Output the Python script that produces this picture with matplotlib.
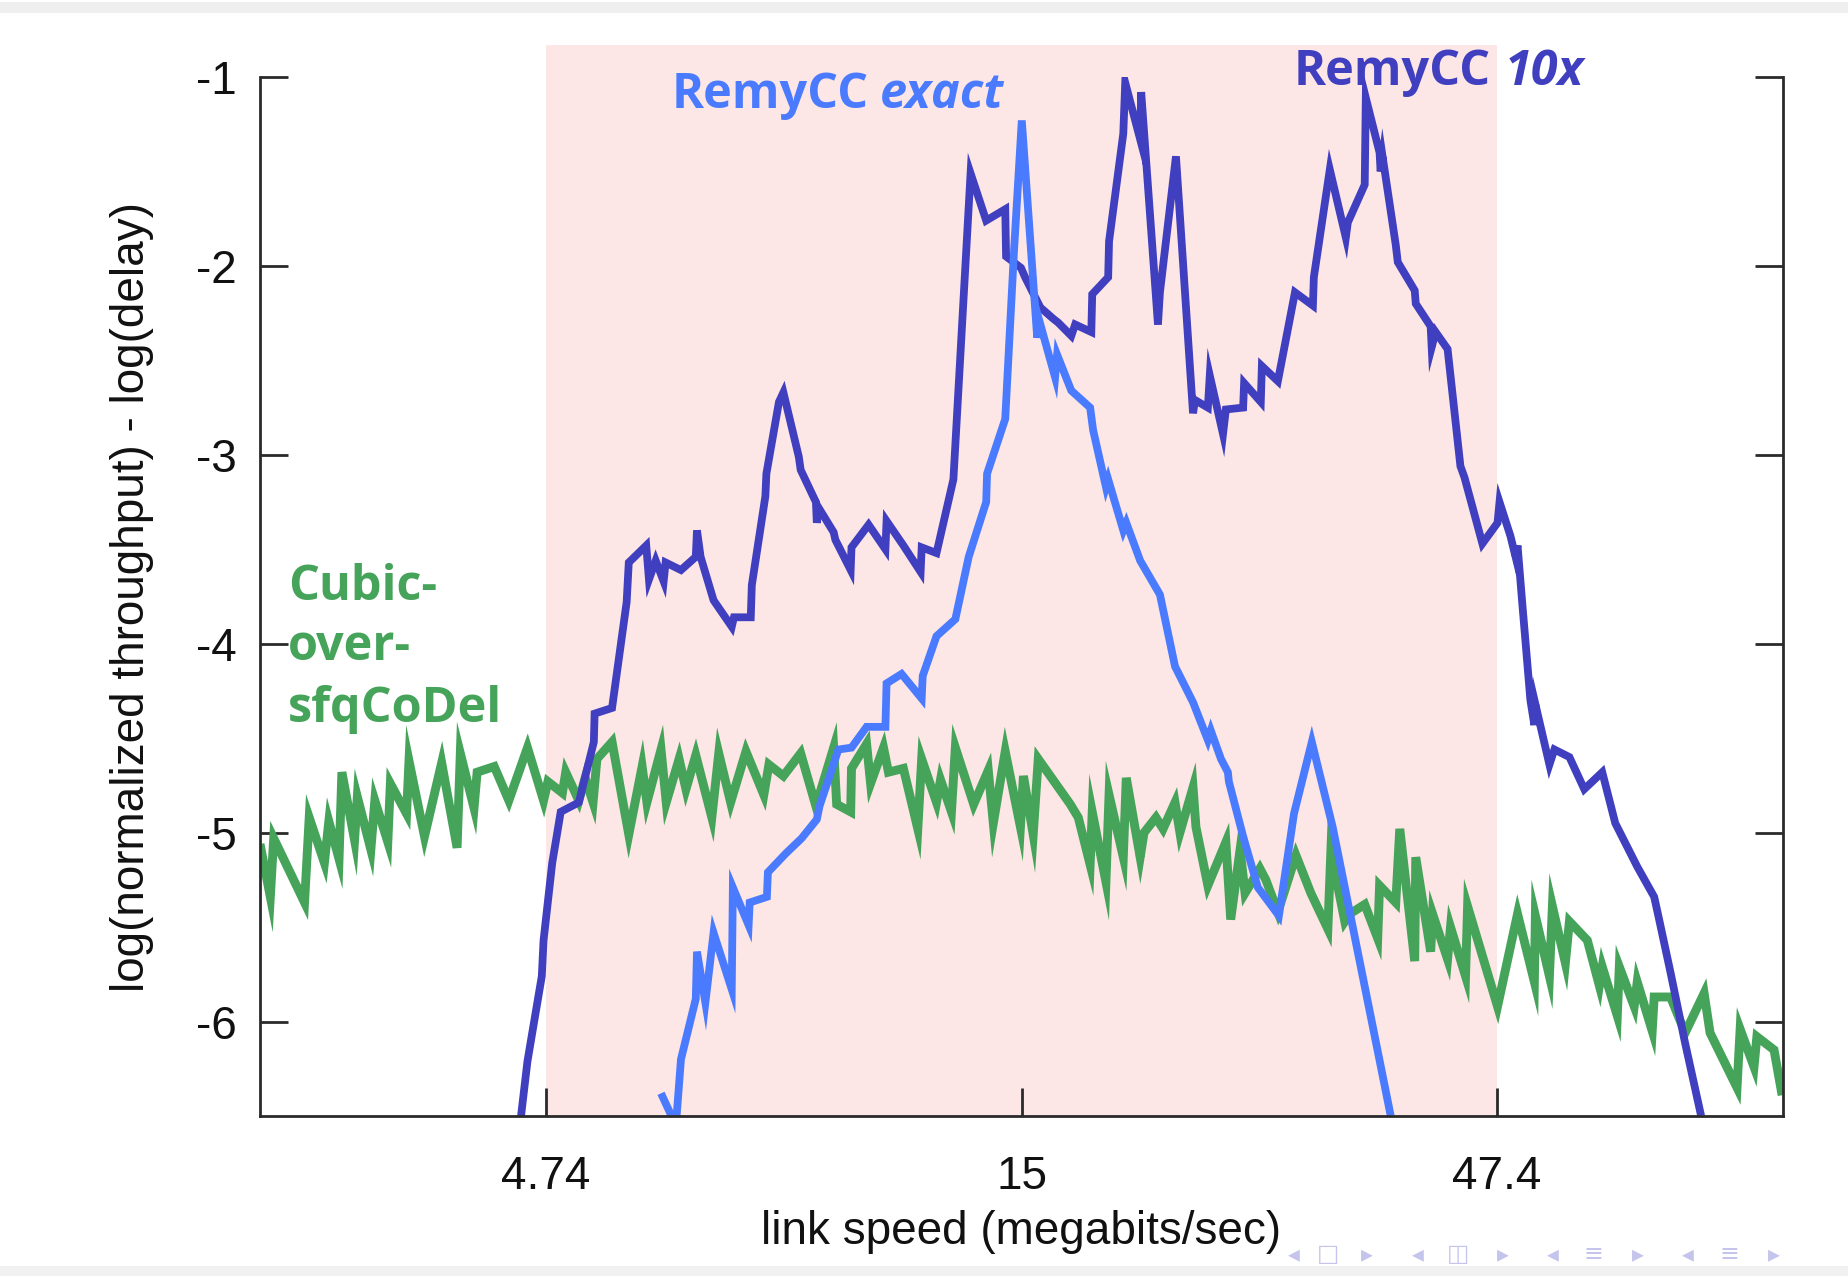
import matplotlib
matplotlib.use("Agg")
import matplotlib.pyplot as plt
from matplotlib.patches import Rectangle
from matplotlib.ticker import NullLocator, FixedLocator, FixedFormatter
from matplotlib.transforms import offset_copy

plt.rcParams["axes.unicode_minus"] = False

# ---- data: link speed (Mbit/s) vs. log(normalized throughput) - log(delay) ----
remy10x_speed = [
    4.46, 4.53, 4.69, 4.71, 4.81, 4.91, 5.13, 5.32, 5.33, 5.56, 5.76, 5.79, 6.04, 6.08,
    6.18, 6.30, 6.33, 6.57, 6.81, 6.83, 6.89, 7.11, 7.43, 7.47, 7.78, 7.80, 8.06, 8.08,
    8.33, 8.42, 8.74, 8.78, 9.11, 9.13, 9.17, 9.51, 9.55, 9.91, 9.93, 10.35, 10.78, 10.81,
    11.26, 11.74, 11.77, 12.20, 12.71, 13.25, 13.76, 14.41, 14.44, 14.97, 15.12, 15.69,
    16.19, 16.38, 16.91, 17.07, 17.75, 17.79, 18.49, 18.53, 19.18, 19.27, 19.98, 20.03,
    20.86, 20.96, 21.79, 22.71, 22.82, 23.54, 23.65, 24.42, 24.59, 25.64, 25.70, 26.76,
    26.83, 27.89, 29.07, 30.36, 30.43, 31.63, 32.88, 33.04, 34.42, 34.51, 35.68, 35.77,
    35.94, 37.11, 37.29, 38.85, 38.95, 40.38, 40.48, 40.87, 42.07, 43.40, 43.83, 45.77,
    47.48, 47.71, 48.99, 49.60, 49.84, 50.44, 51.42, 51.91, 52.04, 53.84, 54.49, 56.51,
    58.58, 61.19, 63.15, 66.60, 69.39, 70.23, 72.19, 74.76, 77.75,
]
remy10x_score = [
    -6.50, -6.21, -5.76, -5.57, -5.16, -4.89, -4.84, -4.52, -4.37, -4.34, -3.78, -3.57, -3.48, -3.66,
    -3.56, -3.67, -3.57, -3.61, -3.54, -3.40, -3.54, -3.77, -3.91, -3.86, -3.86, -3.69, -3.22, -3.10,
    -2.72, -2.67, -3.01, -3.08, -3.25, -3.36, -3.28, -3.41, -3.45, -3.61, -3.49, -3.37, -3.50, -3.35,
    -3.48, -3.62, -3.49, -3.52, -3.13, -1.51, -1.76, -1.70, -1.95, -2.01, -2.06, -2.22,
    -2.28, -2.30, -2.37, -2.31, -2.35, -2.15, -2.06, -1.87, -1.30, -1.03, -1.33, -1.08,
    -2.31, -2.14, -1.42, -2.78, -2.71, -2.75, -2.58, -2.89, -2.76, -2.75, -2.62, -2.72,
    -2.53, -2.61, -2.14, -2.21, -2.06, -1.49, -1.85, -1.77, -1.57, -1.11, -1.40, -1.50,
    -1.42, -1.89, -1.98, -2.13, -2.20, -2.32, -2.43, -2.35, -2.44, -3.06, -3.12, -3.47,
    -3.36, -3.25, -3.43, -3.54, -3.48, -3.80, -4.30, -4.43, -4.32, -4.64, -4.56, -4.60,
    -4.77, -4.68, -4.95, -5.18, -5.34, -5.46, -5.74, -6.11, -6.50,
]

remyexact_speed = [
    6.26, 6.49, 6.57, 6.81, 6.83, 6.97, 7.11, 7.43, 7.45, 7.74, 7.76, 8.09, 8.11, 8.47,
    8.80, 9.13, 9.19, 9.62, 9.93, 10.30, 10.78, 10.81, 11.21, 11.77, 11.80, 12.20, 12.77,
    13.19, 13.76, 13.79, 14.41, 14.72, 15.00, 15.57, 15.65, 16.26, 16.34, 16.91, 17.70,
    17.83, 18.39, 18.49, 19.18, 19.32, 19.98, 20.96, 21.74, 22.71, 23.54, 23.71, 24.30,
    24.71, 24.77, 25.64, 26.57, 27.96, 29.00, 30.28, 31.85, 36.66,
]
remyexact_score = [
    -6.38, -6.55, -6.20, -5.88, -5.63, -5.90, -5.53, -5.83, -5.29, -5.49, -5.37, -5.34, -5.21, -5.11,
    -5.03, -4.93, -4.86, -4.56, -4.55, -4.44, -4.44, -4.21, -4.16, -4.29, -4.17, -3.96, -3.87,
    -3.54, -3.25, -3.10, -2.81, -1.92, -1.23, -2.38, -2.29, -2.59, -2.47, -2.66, -2.75,
    -2.87, -3.17, -3.13, -3.40, -3.36, -3.56, -3.74, -4.12, -4.31, -4.51, -4.46, -4.61,
    -4.68, -4.73, -5.02, -5.29, -5.44, -4.90, -4.52, -4.97, -6.50,
]

cubic_speed = [
    2.37, 2.43, 2.45, 2.64, 2.67, 2.77, 2.80, 2.87, 2.89, 2.98, 3.00, 3.10, 3.13, 3.23,
    3.25, 3.38, 3.40, 3.53, 3.68, 3.82, 3.85, 3.98, 4.01, 4.18, 4.33, 4.53, 4.71, 4.76,
    4.93, 4.97, 5.13, 5.21, 5.31, 5.36, 5.56, 5.79, 5.98, 6.05, 6.26, 6.34, 6.54, 6.65,
    6.81, 7.08, 7.20, 7.41, 7.69, 8.03, 8.13, 8.42, 8.78, 9.11, 9.51, 9.58, 9.91, 9.93,
    10.30, 10.40, 10.73, 10.86, 11.26, 11.66, 11.77, 12.20, 12.32, 12.65, 12.77, 13.35,
    13.83, 14.00, 14.41, 14.95, 15.06, 15.42, 15.61, 16.87, 17.20, 17.70, 17.79, 18.39,
    18.53, 19.18, 19.32, 19.98, 20.17, 20.76, 21.12, 21.74, 22.00, 22.71, 22.87, 23.54,
    24.59, 24.88, 25.45, 25.76, 26.70, 27.09, 27.89, 29.14, 30.21, 31.48, 31.71, 32.80,
    33.20, 34.42, 35.52, 35.68, 37.11, 37.47, 38.85, 38.95, 40.38, 40.57, 42.07, 42.37,
    43.94, 44.16, 47.48, 49.84, 51.91, 52.04, 53.84, 54.23, 55.96, 56.51, 59.02, 60.76,
    61.19, 63.46, 63.77, 66.11, 66.60, 69.06, 69.39, 72.19, 74.79, 78.31, 79.45, 84.81,
    85.45, 88.37, 88.99, 92.76, 94.60,
]
cubic_score = [
    -5.06, -5.34, -5.03, -5.37, -4.92, -5.16, -4.94, -5.14, -4.68, -5.04, -4.81, -5.09, -4.83, -5.05,
    -4.74, -4.90, -4.62, -5.02, -4.63, -5.08, -4.58, -4.87, -4.68, -4.65, -4.83, -4.55, -4.83, -4.73,
    -4.79, -4.68, -4.83, -4.71, -4.84, -4.61, -4.52, -5.01, -4.65, -4.84, -4.56, -4.84, -4.61, -4.77,
    -4.59, -4.92, -4.58, -4.84, -4.57, -4.80, -4.64, -4.70, -4.58, -4.86, -4.55, -4.85, -4.89, -4.66,
    -4.53, -4.74, -4.55, -4.68, -4.66, -4.98, -4.61, -4.84, -4.72, -4.89, -4.55, -4.85,
    -4.67, -4.95, -4.57, -4.97, -4.70, -5.01, -4.61, -4.85, -4.92, -5.17, -4.89, -5.26,
    -4.80, -5.13, -4.71, -5.13, -5.00, -4.92, -4.98, -4.84, -5.00, -4.76, -4.97, -5.28,
    -5.05, -5.46, -5.09, -5.32, -5.19, -5.25, -5.42, -5.12, -5.32, -5.51, -5.10, -5.47,
    -5.43, -5.38, -5.56, -5.28, -5.37, -4.98, -5.68, -5.13, -5.63, -5.43, -5.67, -5.50,
    -5.76, -5.39, -5.92, -5.43, -5.79, -5.44, -5.76, -5.39, -5.69, -5.47, -5.57, -5.81,
    -5.71, -5.97, -5.71, -5.92, -5.79, -6.05, -5.87, -5.87, -6.06, -5.85, -6.06, -6.35,
    -6.04, -6.24, -6.08, -6.15, -6.39,
]

xtick_values = [4.74, 15, 47.4]
xtick_labels = ["4.74", "15", "47.4"]
ytick_values = [-1, -2, -3, -4, -5, -6]
ytick_labels = ["-1", "-2", "-3", "-4", "-5", "-6"]
training_range = (4.74, 47.4)

# ---- styling ----
C_REMY10X = "#3f3fbf"
C_EXACT = "#4a7bff"
C_CUBIC = "#46a35a"
C_SHADE = "#fde6e6"
C_AXIS = "#2a2a2a"
TICK_FONT = "Liberation Sans"
LABEL_FONT = "Open Sans"
FS = 33

W, H = 1848, 1276
fig = plt.figure(figsize=(W / 100, H / 100), dpi=100)
fig.patch.set_facecolor("white")

# slide chrome: thin grey bands at top and bottom
fig.add_artist(Rectangle((0, 1 - 13 / H), 1, 11 / H, transform=fig.transFigure,
                         facecolor="#efefef", edgecolor="none"))
fig.add_artist(Rectangle((0, 0), 1, 10 / H, transform=fig.transFigure,
                         facecolor="#f1f1f1", edgecolor="none"))

ax = fig.add_axes([260 / W, 160 / H, 1523 / W, 1039 / H])
ax.set_xscale("log")
ax.set_xlim(2.37, 94.8)
ax.set_ylim(-6.5, -1)
ax.set_facecolor("none")

# shaded training range, reaching a little above the plot area
ax.axvspan(training_range[0], training_range[1], ymin=0, ymax=1.031,
           facecolor=C_SHADE, edgecolor="none", zorder=0, clip_on=False)

line_kw = dict(solid_joinstyle="miter", solid_capstyle="butt")
ax.plot(cubic_speed, cubic_score, color=C_CUBIC, lw=6.4, zorder=2, **line_kw)
ax.plot(remy10x_speed, remy10x_score, color=C_REMY10X, lw=5.6, zorder=3, **line_kw)
ax.plot(remyexact_speed, remyexact_score, color=C_EXACT, lw=5.6, zorder=4, **line_kw)

# axes frame: left, right and bottom only
ax.spines["top"].set_visible(False)
for s in ("left", "right", "bottom"):
    ax.spines[s].set_color(C_AXIS)
    ax.spines[s].set_linewidth(2.0)
    ax.spines[s].set_zorder(5)

ax.xaxis.set_major_locator(FixedLocator(xtick_values))
ax.xaxis.set_major_formatter(FixedFormatter(xtick_labels))
ax.xaxis.set_minor_locator(NullLocator())
ax.yaxis.set_major_locator(FixedLocator(ytick_values))
ax.yaxis.set_major_formatter(FixedFormatter(ytick_labels))
ax.yaxis.set_minor_locator(NullLocator())

ax.tick_params(axis="y", which="major", direction="in", length=20, width=2.0,
               color=C_AXIS, left=True, right=True, labelleft=True, labelright=False,
               pad=17, labelsize=FS, labelcolor="#111111")
ax.tick_params(axis="x", which="major", direction="in", length=20, width=2.0,
               color=C_AXIS, top=False, bottom=True, pad=28, labelsize=FS,
               labelcolor="#111111")
for lab in ax.get_xticklabels() + ax.get_yticklabels():
    lab.set_fontfamily(TICK_FONT)

ax.set_xlabel("link speed (megabits/sec)", fontsize=FS, family=TICK_FONT,
              color="#111111", labelpad=8)
ax.set_ylabel("log(normalized throughput) - log(delay)", fontsize=FS,
              family=TICK_FONT, color="#111111", labelpad=30)

# ---- series labels ----
renderer = fig.canvas.get_renderer()


def label(x, y, parts, color, size=35, gap=11):
    """Draw consecutive text runs (upright/italic) on one baseline in axes coords."""
    dx = 0.0
    for text, style in parts:
        tr = offset_copy(ax.transAxes, fig=fig, x=dx, y=0, units="dots")
        t = ax.text(x, y, text, transform=tr, color=color, fontsize=size,
                    family=LABEL_FONT, weight="bold", style=style,
                    ha="left", va="baseline", clip_on=False, zorder=6)
        dx += t.get_window_extent(renderer).width + gap


label(0.2705, 0.970, [("RemyCC", "normal"), ("exact", "italic")], C_EXACT)
label(0.679, 0.992, [("RemyCC", "normal"), ("10x", "italic")], C_REMY10X, gap=13)
for txt, yb in (("Cubic-", 0.4966), ("over-", 0.439), ("sfqCoDel", 0.379)):
    ax.text(0.0184, yb, txt, transform=ax.transAxes, color=C_CUBIC, fontsize=35,
            family=LABEL_FONT, weight="bold", ha="left", va="baseline", zorder=6)

# beamer navigation symbols, bottom right
nav = [("◂", 1294), ("□", 1328), ("▸", 1367), ("◂", 1418), ("◫", 1458),
       ("▸", 1503), ("◂", 1553), ("≡", 1593), ("▸", 1638), ("◂", 1688), ("≡", 1729),
       ("▸", 1774)]
for ch, xp in nav:
    fig.text(xp / W, (H - 1254) / H, ch, color="#c4c4ec", fontsize=17,
             family="DejaVu Sans", ha="center", va="center")

fig.savefig("out.png", dpi=100, facecolor=fig.get_facecolor())
